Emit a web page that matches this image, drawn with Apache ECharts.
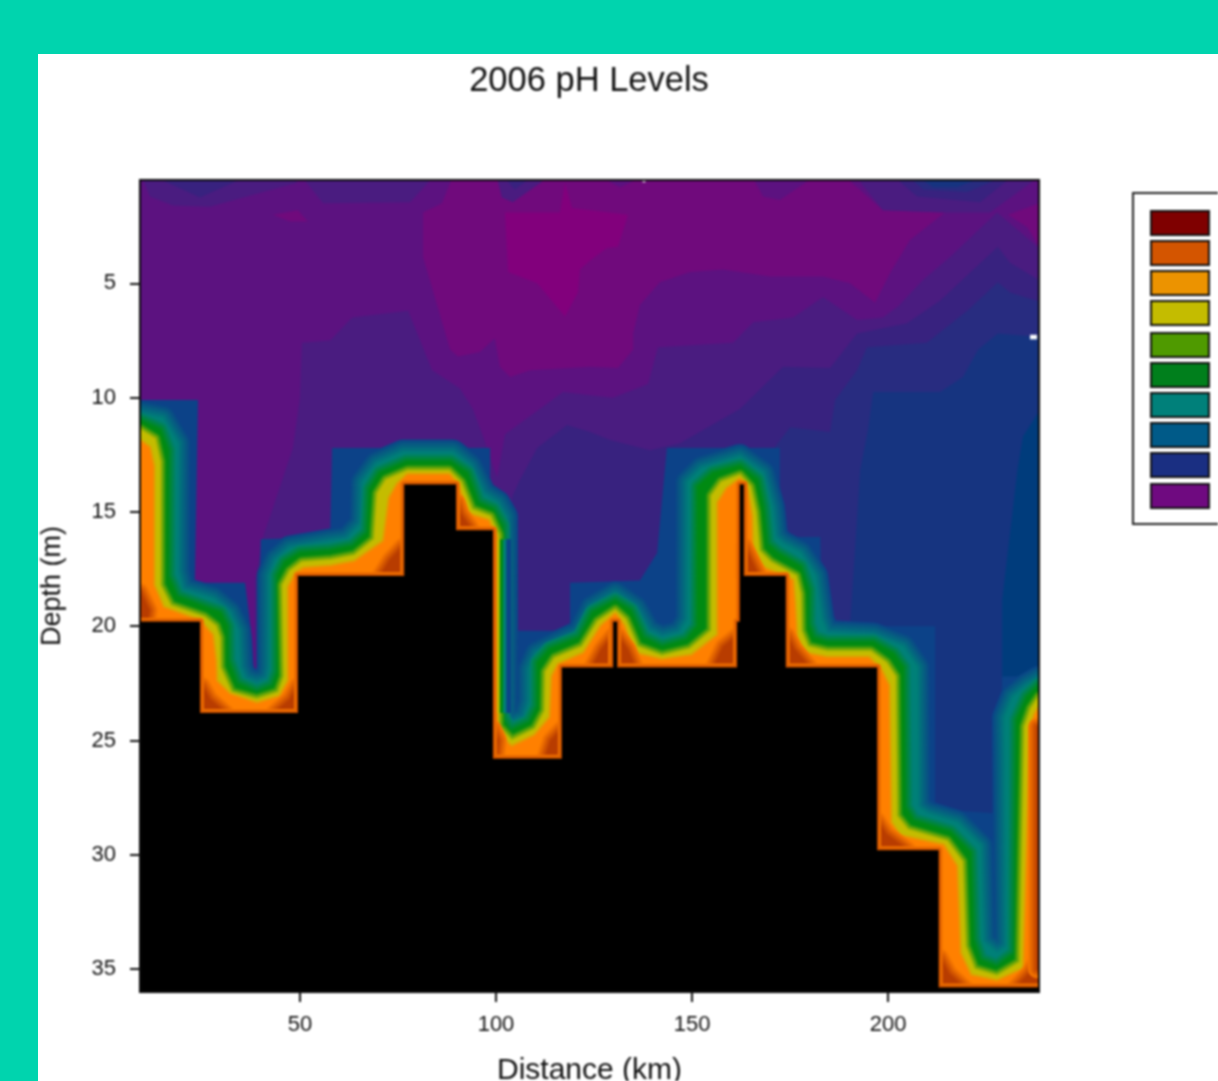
<!DOCTYPE html>
<html><head><meta charset="utf-8">
<style>
html,body{margin:0;padding:0;width:1218px;height:1081px;overflow:hidden;background:#00d4ae;}
#paper{position:absolute;left:38px;top:54px;width:1180px;height:1027px;background:#fff;}
#chart{position:absolute;left:0;top:0;width:1218px;height:1081px;filter:blur(0.8px);}
</style>
<script src="https://cdn.jsdelivr.net/npm/echarts@6/dist/echarts.min.js"></script>
</head><body><div id="paper"></div><div id="chart"></div>
<script>
const titleText = '2006 pH Levels';
const xName = 'Distance (km)';
const yName = 'Depth (m)';
const xTicks = [50,100,150,200];
const yTicks = [5,10,15,20,25,30,35];
const xRange = [9.2,238.5];
const yRange = [0.48,36];
const legendColours = ['#7f0000','#d45500','#ec9300','#c4bc00','#4f9a00','#007f1c','#00807a','#005a88','#1a2f82','#6f0a80'];

// pH contour regions above the sea bed, vertices as [distance km, depth m]
const surfaceM1 = [[88.8,0.4],[86.2,1.5],[81.4,1.9],[81.4,3.85],[88.3,7.9],[90.3,8.2],[95.9,8],[99.7,7.4],[101,8.65],[103.6,9.1],[108.7,8.8],[124,8.65],[131.1,8.7],[135,7.9],[135,7.2],[136.7,5.95],[141.8,4.95],[149.5,4.5],[157.9,4.4],[169.9,4.7],[183.4,4.7],[190.3,5],[196.7,5.85],[200.5,4.55],[205.6,3.1],[214.5,1.9],[198.7,1.8],[192.1,0.8],[189.5,0.4]];
const wedgeM1 = [[230.6,2],[238.5,1.5],[238.5,3.4],[235.5,2.55]];
const spotM1 = [[43.1,2],[49.5,1.8],[52,2.3],[47.4,2.3]];
const coreM0 = [[102.3,1.9],[116.3,1.9],[117.6,0.6],[119.4,1.7],[133.7,2],[131.1,3.4],[128.3,3.45],[124,4],[121.4,4.4],[120.9,5.4],[117.6,6.45],[110.5,5],[103.1,4.5]];
const bodyM3 = [[38.5,36],[38.5,18],[40.6,16.1],[48.2,12.2],[50,10],[50.5,7.6],[57.7,7.5],[63.3,6.5],[77.6,6.2],[83.7,8.8],[90.8,9.6],[94.1,10.5],[96.7,11.7],[100.3,13.5],[102.3,11.6],[117.1,9.75],[124,9.9],[129.8,10],[138.8,9.4],[141.3,7.8],[160.5,7.6],[165.6,6.7],[175.8,6.5],[183.4,5.6],[192.1,6.6],[198.7,6.5],[202.6,6],[208.9,4.85],[215.8,3.85],[227.8,1.9],[233.7,2.75],[238.5,3.45],[238.5,36]];
const bodyM4 = [[103.6,36],[103.6,20.2],[104.1,14.35],[106.1,13.6],[110.5,12.2],[118.1,11.2],[124,11.5],[129.1,11.85],[139.3,12.3],[146.9,12],[162.2,10.5],[173.2,8.65],[185.2,8.7],[192.1,7.2],[204.8,6.75],[213.3,5.75],[228,3.4],[231.1,4.1],[238.5,4.85],[238.5,36]];
const bodyM5 = [[171.2,36],[171.2,12.15],[175,11.3],[185.2,11.5],[186.5,10.1],[192.1,8.8],[194.6,7.8],[209.9,7.6],[220.2,6.2],[228,4.95],[231.1,5.4],[238.5,5.8],[238.5,36]];
const bodyM6 = [[190.3,36],[190.3,20],[192.9,13.15],[194.9,11.4],[196.2,9.75],[213.3,9.75],[219.1,9.1],[223,7.9],[228,7.2],[238.5,7.35],[238.5,36]];
const bodyM7 = [[229.1,36],[229.1,18.85],[233,13.15],[234.4,11.7],[238.5,10.6],[238.5,36]];
const topP1 = [[9.9,0.4],[11.7,1.2],[17.6,1.6],[27,1.65],[35.5,1.25],[49.2,0.6],[49.2,0.4]];
const topP2 = [[50.8,0.4],[55.9,1.5],[78.1,1.45],[83.7,0.4]];
const topP3 = [[100.3,0.4],[101.5,1.25],[104.3,1.45],[113,0.4]];
const topP4 = [[127.3,0.4],[131.6,0.8],[136.7,0.4]];
const topP5 = [[165.6,0.4],[168.1,1.2],[172.4,1.35],[180.6,0.4]];
const topP6 = [[192.1,0.4],[198.7,1.8],[214.5,1.9],[226,1.9],[238,0.4]];
const topQ1 = [[13.8,0.4],[24.5,1.25],[35.5,0.4]];
const topQ2 = [[102.3,0.4],[104.8,0.9],[108.7,0.4]];
const topQ3 = [[202,0.4],[207.4,1.2],[223.5,1.45],[231.1,0.4]];
const topQ4 = [[205.6,0.4],[209,0.9],[220.2,1],[228.6,0.4]];
const topQ5 = [[208.2,0.4],[211.5,0.8],[217.6,0.8],[223.5,0.4]];

// pH contours that hug the sea bed, left to right
const contourBlue = [[9.2,10.1],[24,10.1],[23.2,18.1],[36,18.1],[37.8,20.6],[38.3,22.1],[39.3,22.1],[40,16.2],[57.7,16.1],[58.2,12.2],[98.5,12.2],[98.5,14.2],[102.8,14.2],[103.1,15.8],[104.1,24.2],[104.3,20.6],[103.6,20.2],[118.9,20.2],[118.9,18.1],[136.7,18],[141.1,16.8],[143.6,12.2],[172.4,12.2],[172.4,16.1],[182.7,16.1],[183.2,20],[212,20],[212,28],[228.6,28.2],[229.1,22.2],[238.5,22.2]];
const contourTeal = [[9.2,10.7],[15,10.9],[18.8,12],[18.8,17.6],[20,18.4],[27.8,18.8],[32,19.4],[34.2,20.2],[34.7,21.8],[36,22.3],[39,22.5],[41.8,22.3],[42.3,21.8],[42.3,17.8],[44,17.1],[47.4,16.6],[57.7,16.3],[62,16.2],[65.8,15.5],[66.1,13.7],[69.6,12.9],[76.3,12.4],[89,12.4],[93.4,13],[96.7,14.2],[100.3,14.6],[102.3,15.2],[102.3,24.1],[103.6,24.3],[107.4,24],[108.7,23.3],[108.7,21.9],[110.5,21.2],[116.3,20.7],[121.4,20.3],[124.5,19.2],[130.4,18.6],[135.5,19.2],[138.8,20.2],[142.3,20.5],[146.9,20.3],[149,19.7],[149,13.7],[152.5,13.1],[162.2,12.6],[168,13.3],[170.4,14.8],[171.2,16.1],[173.2,16.4],[177.6,16.8],[181.4,17.8],[183,19.7],[184.4,20.3],[196.2,20.4],[203.8,20.9],[207.4,21.8],[207.6,27.9],[210,28.2],[217.6,28.6],[223.5,29.6],[224.2,33.8],[227.8,34.3],[230.3,34],[229.8,24],[231.9,23.1],[235.5,22.6],[238.5,22.3]];
const contourGreen = [[9.2,11],[14.3,11.4],[16.3,12.3],[16.3,17.8],[18.6,18.7],[26.3,19.2],[29.6,19.4],[31.4,20],[31.6,21.5],[33.9,22.5],[39,22.9],[43.1,22.6],[44.4,22],[44.4,17.8],[46.2,17.2],[50,16.8],[57.7,16.7],[63.5,16.5],[67.3,15.9],[67.9,14],[70.4,13.3],[77.3,12.8],[88.3,12.8],[92.6,13.3],[95.4,14.6],[99.2,14.9],[101.5,15.6],[101.5,24],[103.6,24.6],[108.7,24.2],[110.7,23.5],[110.7,21.6],[113.8,21],[121.4,20.5],[124.7,19.4],[130.4,18.9],[134.2,19.3],[137.5,20.5],[142.3,20.9],[148.7,20.6],[151.5,20],[151.5,13.9],[155.4,13.3],[162.2,13],[166.6,13.6],[168.1,14.8],[169.1,16.4],[171.7,16.8],[177.6,17.4],[179.6,18.4],[179.6,19.9],[180.9,20.5],[184.4,20.7],[196.2,20.7],[201.3,21.2],[203.8,21.8],[204.3,27.9],[206.4,28.5],[215.8,29],[220.9,29.9],[221.7,33.7],[223.5,34.6],[227.8,34.9],[232.4,34.3],[232.9,24.1],[235.5,23.1],[238.5,22.6]];
const contourYellow = [[9.2,11.4],[13,11.8],[14.3,12.8],[14.3,18.2],[17,19.1],[25.5,19.6],[28.5,20],[29.5,20.5],[29.6,21.8],[32.5,22.9],[39,23.2],[44.5,22.9],[46,22.2],[45.6,18.2],[47.5,17.6],[50.5,17.2],[58,17.1],[64,16.9],[69,16.2],[69.8,14.2],[72,13.6],[77.5,13.2],[88,13.2],[91,13.7],[93.8,14.9],[98.5,15.2],[100.6,16],[100.6,24.4],[104,25],[110,24.5],[112.5,23.7],[112.7,22],[115,21.4],[122,20.9],[126,19.8],[130.4,19.3],[133,19.7],[136,20.9],[142.3,21.3],[149.5,21],[155,20.2],[155,14.3],[157.5,13.7],[162.2,13.4],[164.8,13.9],[166.2,15],[167.1,16.7],[170,17.2],[176.5,17.8],[177.6,18.6],[177.8,20.2],[179.5,20.9],[184.4,21.1],[195.5,21.1],[199.5,21.6],[201.8,22.2],[202.2,28.3],[205,28.9],[215,29.4],[218.9,30.3],[219.7,34],[222,35],[227.8,35.3],[233.7,34.7],[234.9,24.4],[236.5,23.6],[238.5,23.1]];
const contourOrange = [[9.2,11.9],[11.5,12.2],[12.5,13],[12.5,18.2],[15,19.2],[24.5,19.8],[27.5,20.4],[28.3,21.5],[28.5,22.4],[32,23],[39,23.4],[45,23.1],[47.3,22.4],[47.3,18.3],[49,17.7],[51,17.5],[58,17.4],[64,17.2],[71.5,16.3],[73,14.4],[75,13.8],[77.5,13.4],[88,13.4],[90,13.8],[92.5,15.1],[98,15.4],[100,16.2],[100,24.7],[104,25.3],[110,24.8],[114,24],[114.5,22.2],[116,21.7],[122.5,21.2],[127,20],[130.4,19.5],[132.5,20],[135,21.2],[142.3,21.5],[150,21.3],[156.8,20.4],[156.8,14.6],[159,14],[162.2,13.6],[164,14.1],[165,15.2],[165.2,17],[168.5,17.5],[175.5,18],[176,19],[176.5,20.5],[178.5,21.2],[184.4,21.4],[195,21.4],[198,21.9],[200,22.6],[200.5,28.6],[203,29.2],[214,29.6],[217.3,30.5],[218.2,34.3],[221,35.3],[227.8,35.55],[234.8,35],[236.5,24.6],[237.5,23.9],[238.5,23.6]];

// narrow wall at 100 km, where the contours crowd together
const wallBlue = [[102.6,16.2],[103.8,16.2],[103.8,23.8],[102.6,23.8]];
const wallTeal = [[101.8,16.2],[102.6,16.2],[102.6,23.8],[101.8,23.8]];
const wallGreen = [[100.9,16.2],[101.8,16.2],[101.8,23.8],[100.9,23.8]];
const wallYellow = [[100.1,16.2],[100.9,16.2],[100.9,23.8],[100.1,23.8]];
const wallOrange = [[99.2,16.2],[100.1,16.2],[100.1,23.8],[99.2,23.8]];

// dark patches at the corners of the sea bed
const cornerPatches = [
 [[9.2,18.5],[11.5,19.3],[11,19.9],[9.2,19.9]],
 [[25,22.6],[27,23.2],[31,23.8],[25,23.8]],
 [[49.5,22.6],[47.5,23.2],[43.5,23.8],[49.5,23.8]],
 [[76.3,16.5],[73,17.1],[70.5,17.8],[76.3,17.8]],
 [[90,14.6],[91,15.1],[93.5,15.7],[90,15.8]],
 [[99.2,24.5],[100.5,25],[100,25.8],[99.2,25.8]],
 [[116.8,24.5],[114,25],[112.5,25.8],[116.8,25.8]],
 [[129.9,20.4],[127,21],[124.5,21.8],[129.9,21.8]],
 [[130.9,20.4],[133.5,21],[135.5,21.8],[130.9,21.8]],
 [[161.7,20.4],[158,20.9],[155.5,21.8],[161.7,21.8]],
 [[163.3,16.5],[165,17.1],[167,17.8],[163.3,17.8]],
 [[174.2,20.4],[176,21],[180,21.8],[174.2,21.8]],
 [[197.2,28.5],[199.5,29.1],[205,29.8],[197.2,29.8]],
 [[213.3,34.5],[215.5,35.2],[220,35.9],[213.3,35.9]],
 [[238.5,34.5],[236,35.2],[232,35.9],[238.5,35.9]],
 [[238,24.4],[238.6,24.4],[238.6,35],[238,35]]
];

// unsampled sea bed
const seaBed = [[9.2,19.8],[24.5,19.8],[24.5,23.8],[49.5,23.8],[49.5,17.8],[76.6,17.8],[76.6,13.8],[89.8,13.8],[89.8,15.8],[99.2,15.8],[99.2,25.8],[116.8,25.8],[116.8,21.8],[129.9,21.8],[129.9,19.8],[130.9,19.8],[130.9,21.8],[161.5,21.8],[161.5,19.8],[162.2,19.8],[162.2,13.8],[163.2,13.8],[163.2,17.8],[173.9,17.8],[173.9,21.8],[197.2,21.8],[197.2,29.8],[212.9,29.8],[212.9,35.8],[238.5,35.8]];
const speckA = [[236.2,7.25],[238,7.25],[238,7.45],[236.2,7.45]];
const speckB = [[137.4,0.48],[138.1,0.48],[138.1,0.58],[137.4,0.58]];

const purple = {m0:'#82007c',m1:'#700a7c',m2:'#5c1280',m3:'#4a1c80',m4:'#38227f',m5:'#282c80',m6:'#163480',m7:'#003c7c'};
const ramp = {blue:'#0c4288',teal:'#008078',green:'#008a12',yellow:'#c4bc00',orange:'#ff8000',rust:'#c04400',black:'#000000'};

function hex(c){return [1,3,5].map(i=>parseInt(c.substr(i,2),16));}
function mix(a,b,t){const A=hex(a),B=hex(b);return 'rgb('+A.map((v,i)=>Math.round(v+(B[i]-v)*t)).join(',')+')';}

const layers = [
 {pts:[[xRange[0],yRange[0]],[xRange[1],yRange[0]],[xRange[1],yRange[1]],[xRange[0],yRange[1]]],color:purple.m2},
 {pts:bodyM3,color:purple.m3},{pts:bodyM4,color:purple.m4},{pts:bodyM5,color:purple.m5},{pts:bodyM6,color:purple.m6},{pts:bodyM7,color:purple.m7},
 {pts:surfaceM1,color:purple.m1},{pts:wedgeM1,color:purple.m1},{pts:spotM1,color:purple.m1},{pts:coreM0,color:purple.m0},
 {pts:topP1,color:purple.m3},{pts:topP2,color:purple.m3},{pts:topP3,color:purple.m3},{pts:topP4,color:purple.m2},{pts:topP5,color:purple.m2},{pts:topP6,color:purple.m3},
 {pts:topQ1,color:purple.m4},{pts:topQ2,color:purple.m4},{pts:topQ3,color:purple.m4},{pts:topQ4,color:purple.m5},{pts:topQ5,color:purple.m6},
 {pts:speckA,color:'#ffffff'},{pts:speckB,color:'#ffffff'},
 {pts:contourBlue,color:ramp.blue,open:true},
 {pts:contourTeal,color:ramp.teal,from:ramp.blue,fade:13,open:true},
 {pts:contourGreen,color:ramp.green,from:ramp.teal,fade:8,open:true},
 {pts:contourYellow,color:ramp.yellow,from:ramp.green,fade:6,open:true},
 {pts:contourOrange,color:ramp.orange,from:ramp.yellow,fade:3,open:true},
 {pts:wallBlue,color:ramp.blue},{pts:wallTeal,color:ramp.teal},{pts:wallGreen,color:ramp.green},{pts:wallYellow,color:ramp.yellow},{pts:wallOrange,color:ramp.orange}
];
cornerPatches.forEach(p=>layers.push({pts:p,color:'#b83c00',from:ramp.orange,fade:9}));
layers.push({pts:seaBed,color:ramp.black,from:ramp.orange,to:ramp.rust,fade:4,open:true});

function closeBelow(pts){
  const a=pts[0],b=pts[pts.length-1];
  return [[-20,a[1]]].concat(pts,[[270,b[1]],[270,60],[-20,60]]);
}
function renderLayer(params,api){
  const L=layers[api.value(2)];
  const pts=(L.open?closeBelow(L.pts):L.pts).map(p=>api.coord(p));
  const kids=[];
  if(L.fade){
    for(let d=L.fade;d>=1;d--){
      const t=1-d/(L.fade+1);
      const col=mix(L.from,L.to||L.color,t);
      kids.push({type:'polygon',shape:{points:pts},style:{fill:'none',stroke:col,lineWidth:d*2,lineJoin:'round'}});
    }
  }
  kids.push({type:'polygon',shape:{points:pts},style:{fill:L.color}});
  return {type:'group',children:kids};
}
function renderFrame(params,api){
  const a=api.coord([xRange[0],yRange[0]]),b=api.coord([xRange[1],yRange[1]]);
  return {type:'polygon',shape:{points:[a,[b[0],a[1]],b,[a[0],b[1]]]},style:{fill:'none',stroke:'#0a0a0a',lineWidth:2}};
}

const tops=[211,241,271,301,333,363,393,423,453,484];
const legendGraphic=[{type:'rect',shape:{x:1133,y:193,width:120,height:331},style:{fill:'#fff',stroke:'#222',lineWidth:2},silent:true}];
legendColours.forEach((c,i)=>legendGraphic.push({type:'rect',shape:{x:1151,y:tops[i],width:58,height:24},style:{fill:c,stroke:'#111',lineWidth:2},silent:true}));

const chart=echarts.init(document.getElementById('chart'),null,{renderer:'canvas'});
const textCol='#111';
const font='"Liberation Sans", Arial, sans-serif';
chart.setOption({
  animation:false,
  backgroundColor:'transparent',
  title:{text:titleText,left:584,top:59,textAlign:'center',textStyle:{fontFamily:font,fontWeight:'normal',fontSize:34.5,color:textCol}},
  grid:{left:140,top:180,width:899,height:812,show:false,outerBoundsMode:'none'},
  xAxis:{type:'value',min:xRange[0],max:xRange[1],position:'bottom',z:10,
    name:xName,nameLocation:'middle',nameGap:64,nameTextStyle:{fontFamily:font,fontSize:30,color:textCol},
    splitLine:{show:false},axisLine:{show:false},
    axisTick:{show:true,length:10,lineStyle:{color:'#111',width:2},customValues:xTicks},
    axisLabel:{fontFamily:font,fontSize:22,color:textCol,margin:22,customValues:xTicks,formatter:v=>String(v)}},
  yAxis:{type:'value',inverse:true,min:yRange[0],max:yRange[1],z:10,
    name:yName,nameLocation:'middle',nameGap:74,nameTextStyle:{fontFamily:font,fontSize:27,color:textCol},
    splitLine:{show:false},axisLine:{show:false},
    axisTick:{show:true,length:10,lineStyle:{color:'#111',width:2},customValues:yTicks},
    axisLabel:{fontFamily:font,fontSize:22,color:textCol,margin:24,customValues:yTicks,formatter:v=>String(v)}},
  graphic:legendGraphic,
  series:[
    {type:'custom',clip:true,silent:true,z:2,coordinateSystem:'cartesian2d',renderItem:renderLayer,encode:{x:0,y:1},
     data:layers.map((L,i)=>[L.pts[0][0],L.pts[0][1],i])},
    {type:'custom',clip:false,silent:true,z:5,coordinateSystem:'cartesian2d',renderItem:renderFrame,encode:{x:0,y:1},
     data:[[xRange[0],yRange[0]]]}
  ]
});
</script></body></html>
